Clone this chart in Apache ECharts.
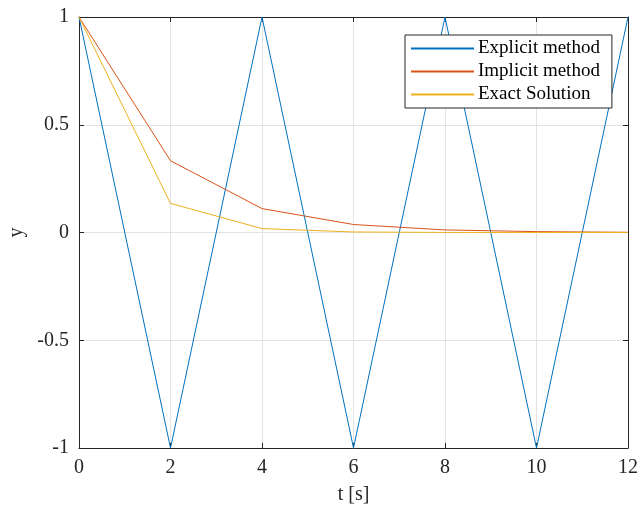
<!DOCTYPE html>
<html><head><meta charset="utf-8">
<script src="https://cdn.jsdelivr.net/npm/echarts@6/dist/echarts.min.js"></script>
<style>html,body{margin:0;padding:0;background:#fff}#c{width:640px;height:506px}</style>
</head><body><div id="c"></div>
<script>
const t = [0, 2, 4, 6, 8, 10, 12];
const explicitY = [1, -1, 1, -1, 1, -1, 1];
const implicitY = [1, 0.333, 0.111, 0.037, 0.012, 0.004, 0.001];
const exactY = [1, 0.135, 0.018, 0.0025, 0.0003, 0.00005, 0.000006];
const seriesNames = ['Explicit method', 'Implicit method', 'Exact Solution'];
const colors = ['#0072BD', '#D95319', '#EDB120'];

const font = 'Liberation Serif';
const axisCol = '#262626';
const chart = echarts.init(document.getElementById('c'), null, {renderer: 'canvas'});
const pairs = a => t.map((x, i) => [x, a[i]]);
const baseX = {
  type: 'value', min: 0, max: 12, interval: 2,
  axisLine: {show: true, onZero: false, lineStyle: {color: axisCol, width: 1}},
  axisTick: {show: true, inside: true, length: 5, lineStyle: {color: axisCol}},
  splitLine: {show: false}
};
const baseY = {
  type: 'value', min: -1, max: 1, interval: 0.5,
  axisLine: {show: true, onZero: false, lineStyle: {color: axisCol, width: 1}},
  axisTick: {show: true, inside: true, length: 5, lineStyle: {color: axisCol}},
  splitLine: {show: false}
};
chart.setOption({
  animation: false,
  color: colors,
  grid: {left: 79, right: 12, top: 17, bottom: 58, containLabel: false, outerBoundsMode: 'none'},
  xAxis: [
    Object.assign({}, baseX, {
      position: 'bottom',
      name: 't [s]', nameLocation: 'middle', nameGap: 37,
      nameTextStyle: {fontFamily: font, fontSize: 20, color: axisCol},
      axisLabel: {fontFamily: font, fontSize: 20, color: axisCol, margin: 10},
      splitLine: {show: true, lineStyle: {color: '#e3e3e3', width: 1}}
    }),
    Object.assign({}, baseX, {position: 'top', axisLabel: {show: false}})
  ],
  yAxis: [
    Object.assign({}, baseY, {
      position: 'left',
      name: 'y', nameLocation: 'middle', nameGap: 52,
      nameTextStyle: {fontFamily: font, fontSize: 20, color: axisCol},
      axisLabel: {fontFamily: font, fontSize: 20, color: axisCol, margin: 10,
        formatter: v => String(v)},
      splitLine: {show: true, lineStyle: {color: '#e3e3e3', width: 1}}
    }),
    Object.assign({}, baseY, {position: 'right', axisLabel: {show: false}})
  ],
  legend: {
    left: 405, top: 35, orient: 'vertical',
    itemWidth: 63, itemHeight: 2, itemGap: 4,
    icon: 'rect',
    backgroundColor: '#fff',
    borderColor: axisCol, borderWidth: 1, borderRadius: 0,
    padding: [4, 12, 4, 6],
    textStyle: {fontFamily: font, fontSize: 19, color: '#000', padding: [0, 0, 0, -1]},
    data: seriesNames
  },
  series: [
    {name: seriesNames[0], type: 'line', data: pairs(explicitY), showSymbol: false, lineStyle: {width: 1}},
    {name: seriesNames[1], type: 'line', data: pairs(implicitY), showSymbol: false, lineStyle: {width: 1}},
    {name: seriesNames[2], type: 'line', data: pairs(exactY), showSymbol: false, lineStyle: {width: 1}}
  ]
});
</script></body></html>
